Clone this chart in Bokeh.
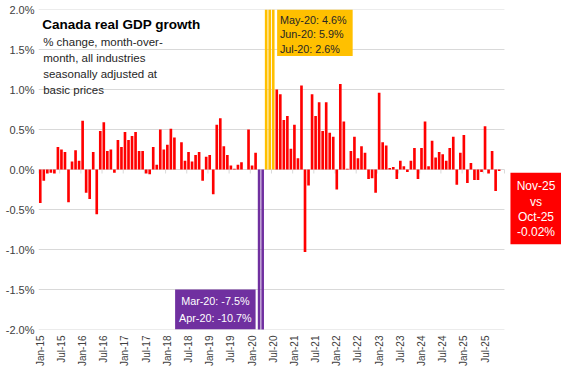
from math import pi
from bokeh.plotting import figure
from bokeh.models import Range1d, FixedTicker, PrintfTickFormatter, Label, ColumnDataSource
from bokeh.embed import file_html
from bokeh.resources import INLINE

# ---------------- data (month-over-month % change) ----------------
month_names = ["Jan", "Feb", "Mar", "Apr", "May", "Jun",
               "Jul", "Aug", "Sep", "Oct", "Nov", "Dec"]
months = [f"{m}-{y:02d}" for y in range(15, 26) for m in month_names][:131]

g2015 = [-0.42, -0.14, -0.05, -0.04, -0.05, 0.28, 0.25, 0.22, -0.41, 0.10, 0.24, 0.11]
g2016 = [0.61, -0.29, -0.37, 0.22, -0.56, 0.48, 0.59, 0.23, 0.25, -0.04, 0.37, 0.28]
g2017 = [0.47, 0.37, 0.42, 0.47, 0.23, 0.23, -0.05, -0.06, 0.28, 0.06, 0.50, 0.25]
g2018 = [0.31, 0.51, 0.40, 0.00, 0.34, 0.11, 0.22, 0.10, 0.18, 0.22, -0.14, 0.16]
g2019 = [0.18, -0.31, 0.56, 0.64, 0.29, 0.18, 0.05, 0.01, 0.06, 0.09, 0.00, 0.50]
g2020 = [0.05, 0.21, -7.5, -10.7, 4.6, 5.9, 2.6, 1.00, 0.94, 0.62, 0.67, 0.26]
g2021 = [0.56, 0.14, 1.05, -1.03, -0.20, 0.94, 0.67, 0.84, 0.48, 0.84, 0.46, 0.41]
g2022 = [-0.25, 1.07, 0.60, 0.01, 0.23, 0.41, 0.14, 0.29, 0.21, -0.12, -0.11, -0.29]
g2023 = [0.96, 0.34, 0.30, 0.02, 0.03, -0.12, 0.11, 0.04, -0.03, 0.11, 0.27, -0.12]
g2024 = [0.27, 0.60, 0.04, 0.36, 0.15, 0.22, 0.19, 0.11, 0.27, 0.41, -0.19, 0.21]
g2025 = [0.43, -0.17, 0.08, -0.13, -0.13, -0.03, 0.54, -0.05, 0.23, -0.27, -0.02]

growth = g2015 + g2016 + g2017 + g2018 + g2019 + g2020 + g2021 + g2022 + g2023 + g2024 + g2025

tick_labels = ["Jan-15", "Jul-15", "Jan-16", "Jul-16", "Jan-17", "Jul-17",
               "Jan-18", "Jul-18", "Jan-19", "Jul-19", "Jan-20", "Jul-20",
               "Jan-21", "Jul-21", "Jan-22", "Jul-22", "Jan-23", "Jul-23",
               "Jan-24", "Jul-24", "Jan-25", "Jul-25"]
y_ticks = [-2.0, -1.5, -1.0, -0.5, 0.0, 0.5, 1.0, 1.5, 2.0]

covid_down = ["Mar-20", "Apr-20"]
covid_up = ["May-20", "Jun-20", "Jul-20"]

# ---------------- styling ----------------
RED = "#FF0000"
PURPLE = "#7030A0"
YELLOW = "#FFC000"
GRID = "#D9D9D9"
TXT = "#404040"
FONT = "Liberation Sans"

idx = list(range(len(months)))
colors = [PURPLE if m in covid_down else YELLOW if m in covid_up else RED for m in months]
src = ColumnDataSource(dict(x=idx, top=growth, color=colors, month=months))

n_slots = 132                # category slots on the axis (through Dec-25)
x_end = 147.66               # extra room at the right for the callout box

p = figure(width=561, height=369, output_backend="svg", toolbar_location=None,
           x_range=Range1d(-0.5, x_end), y_range=Range1d(-2.0, 2.0),
           min_border_left=38, min_border_right=0, min_border_top=9, min_border_bottom=0)
p.outline_line_color = None
p.background_fill_color = "white"
p.border_fill_color = "white"
p.xgrid.visible = False
p.ygrid.visible = False

# horizontal gridlines (stop at end of category axis)
p.segment(x0=[-0.5] * len(y_ticks), x1=[n_slots - 0.5] * len(y_ticks),
          y0=y_ticks, y1=y_ticks, line_color=GRID, line_width=1)

# category tick marks on the zero line every 6 months
tick_x = [-0.5 + 6 * k for k in range(n_slots // 6 + 1)]
p.segment(x0=tick_x, x1=tick_x, y0=[0] * len(tick_x), y1=[-0.05] * len(tick_x),
          line_color=GRID, line_width=1)

# bars
p.vbar(x="x", top="top", bottom=0, width=0.75, fill_color="color", line_color=None, source=src)

# axes
p.yaxis.ticker = FixedTicker(ticks=y_ticks)
p.yaxis.formatter = PrintfTickFormatter(format="%.1f%%")
p.yaxis.axis_line_color = None
p.yaxis.major_tick_line_color = None
p.yaxis.minor_tick_line_color = None
p.yaxis.major_tick_out = 0
p.yaxis.major_tick_in = 0
p.yaxis.major_label_text_font = FONT
p.yaxis.major_label_text_font_size = "11px"
p.yaxis.major_label_text_color = TXT
p.yaxis.major_label_standoff = 4

tick_pos = [months.index(t) for t in tick_labels]
p.xaxis.ticker = FixedTicker(ticks=tick_pos)
p.xaxis.major_label_overrides = {pos: lab for pos, lab in zip(tick_pos, tick_labels)}
p.xaxis.major_label_orientation = pi / 2
p.xaxis.axis_line_color = None
p.xaxis.major_tick_line_color = None
p.xaxis.minor_tick_line_color = None
p.xaxis.major_tick_out = 0
p.xaxis.major_tick_in = 0
p.xaxis.major_label_text_font = FONT
p.xaxis.major_label_text_font_size = "10px"
p.xaxis.major_label_text_color = TXT
p.xaxis.major_label_standoff = 6

# ---------------- title block ----------------
p.add_layout(Label(x=0.55, y=1.809, text="Canada real GDP growth", text_font=FONT,
                   text_font_size="13.5px", text_font_style="bold", text_color="#000000",
                   text_baseline="alphabetic"))
sub_lines = ["% change, month-over-", "month, all industries",
             "seasonally adjusted at", "basic prices"]
for k, line in enumerate(sub_lines):
    p.add_layout(Label(x=0.83, y=1.60 - k * 0.20, text=line, text_font=FONT,
                       text_font_size="11.5px", text_color="#262626",
                       text_baseline="alphabetic"))

# ---------------- callouts ----------------
# purple: lockdown declines
p.quad(left=[38.2], right=[61.0], top=[-1.5], bottom=[-2.0], fill_color=PURPLE, line_color=None)
for k, m in enumerate(covid_down):
    v = growth[months.index(m)]
    p.add_layout(Label(x=49.6, y=-1.64 - k * 0.21, text=f"{m}: {v:.1f}%", text_font=FONT,
                       text_font_size="10.8px", text_color="white",
                       text_align="center", text_baseline="middle"))

# yellow: rebound
p.quad(left=[67.1], right=[88.5], top=[2.0], bottom=[1.42], fill_color=YELLOW, line_color=None)
for k, m in enumerate(covid_up):
    v = growth[months.index(m)]
    p.add_layout(Label(x=67.9, y=1.87 - k * 0.18, text=f"{m}: {v:.1f}%", text_font=FONT,
                       text_font_size="10.8px", text_color="#262626",
                       text_align="left", text_baseline="middle"))

# red: latest month
last, prev = months[-1], months[-2]
box_left = 133.2
p.quad(left=[box_left], right=[x_end], top=[-0.04], bottom=[-0.935], fill_color=RED, line_color=None)
box_cx = (box_left + x_end) / 2
red_lines = [last, "vs", prev, f"{growth[-1]:.2f}%"]
for k, line in enumerate(red_lines):
    p.add_layout(Label(x=box_cx, y=-0.21 - k * 0.19, text=line, text_font=FONT,
                       text_font_size="12px", text_color="white",
                       text_align="center", text_baseline="middle"))

open("out.html", "w").write(file_html(p, INLINE))
